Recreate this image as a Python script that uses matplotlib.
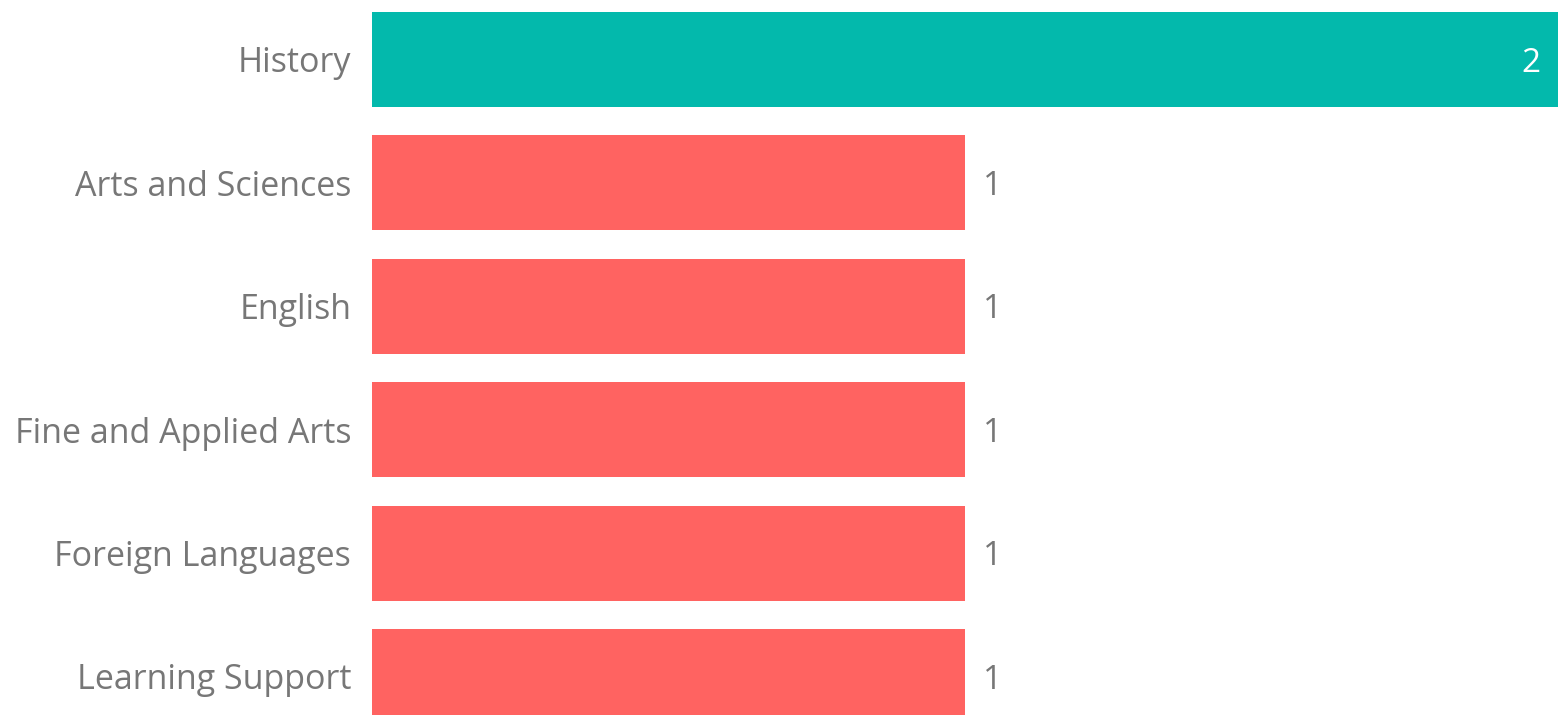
import matplotlib.pyplot as plt

# data
categories = ['History', 'Arts and Sciences', 'English', 'Fine and Applied Arts',
              'Foreign Languages', 'Learning Support']
counts = [2, 1, 1, 1, 1, 1]
bar_colors = ['#03B9AC', '#FF6361', '#FF6361', '#FF6361', '#FF6361', '#FF6361']

plt.rcParams['font.family'] = ['Open Sans', 'DejaVu Sans']

fig = plt.figure(figsize=(15.66, 7.15), dpi=100)
ax = fig.add_axes([372/1566, 0, (1558-372)/1566, 1])

ypos = list(range(len(categories)))
bars = ax.barh(ypos, counts, height=0.77, color=bar_colors)

ax.set_xlim(0, 2)
ax.set_ylim(5.312, -0.482)
ax.set_yticks(ypos)
ax.set_yticklabels(categories, fontsize=24.5, color='#777777')
ax.tick_params(axis='y', length=0, pad=15)
ax.set_xticks([])
for s in ax.spines.values():
    s.set_visible(False)

for y, v in zip(ypos, counts):
    if v == max(counts):
        ax.text(v - 0.03, y + 0.03, str(v), ha='right', va='center', fontsize=24,
                color='white', fontweight='medium')
    else:
        ax.text(v + 0.03, y + 0.03, str(v), ha='left', va='center', fontsize=24, color='#777777')

fig.savefig('out.png', dpi=100)
